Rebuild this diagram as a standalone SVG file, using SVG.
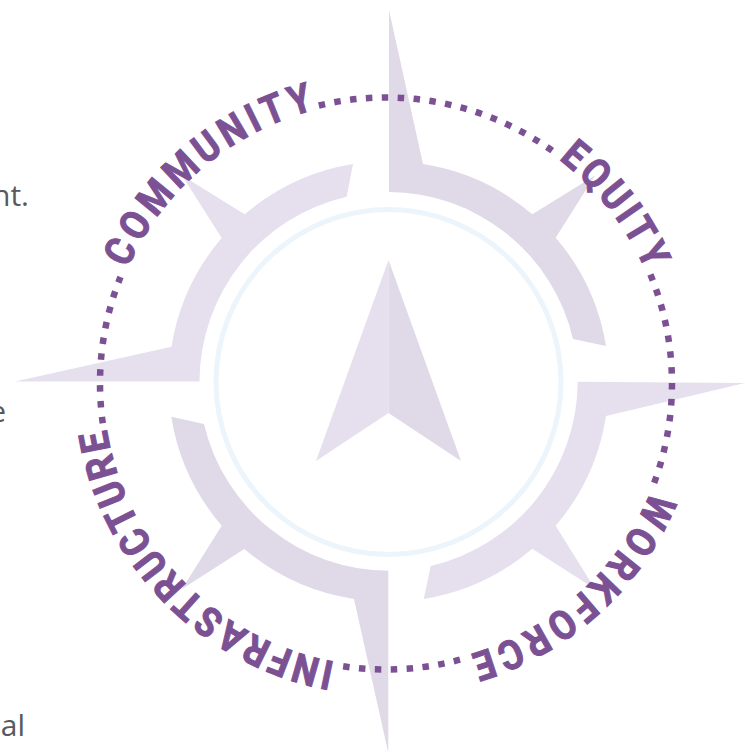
<svg xmlns="http://www.w3.org/2000/svg" xmlns:xlink="http://www.w3.org/1999/xlink" width="745" height="754" viewBox="0 0 745 754">
<style>
.a{fill:#e0d9e8}.b{fill:#e6e0ee}
.lbl{font-family:Roboto,"Liberation Sans",sans-serif;font-weight:700;font-size:40.5px;fill:#7b5194;stroke:#7b5194;stroke-width:1.1}
.dots{fill:none;stroke:#7b5194;stroke-width:6.5;stroke-dasharray:6.5 9.4}
.side{font-family:"Open Sans","Noto Sans",sans-serif;font-size:30px;fill:#58595b;text-anchor:end}
</style>
<defs>
<path id="p1" d="M127.5,268.4A283,283 0 0 1 361.3,101.6"/>
<path id="p2" d="M558.7,159.3A283,283 0 0 1 664.7,334.4"/>
<path id="p3" d="M651,491A283,283 0 0 1 410.7,665.4"/>
<path id="p4" d="M335,662A283,283 0 0 1 104.1,358.8"/>
</defs>
<rect width="745" height="754" fill="#fff"/>
<g id="side-text">
<text class="side" x="29" y="206">nt.</text>
<text class="side" x="6" y="422">e</text>
<text class="side" x="25" y="736">al</text>
</g>
<g id="compass-top-right"><path class="a" d="M389,10L423,164A220.7,220.7 0 0 1 532.3,214.3L595,175.5L555.7,237.7A220.7,220.7 0 0 1 606,346L573,339A190,190 0 0 0 389,192Z"/></g>
<g id="compass-top-left"><path class="b" d="M15,381.5L171.5,346.7A220.7,220.7 0 0 1 221.7,238L182,175.5L244.7,214.3A220.7,220.7 0 0 1 353,164L346.7,196.7A190,190 0 0 0 199.5,381.5Z"/></g>
<g id="compass-bottom-right"><path class="b" d="M745,383L606,416A220.7,220.7 0 0 1 555.7,525.7L595,589L532.3,548.7A220.7,220.7 0 0 1 423.7,599L430.7,566A190,190 0 0 0 577.7,381.7Z"/></g>
<g id="compass-bottom-left"><path class="a" d="M388.3,753L354,599A220.7,220.7 0 0 1 244.3,549L182,589L221.7,525.7A220.7,220.7 0 0 1 171.3,416.7L204,424A190,190 0 0 0 388.3,570.7Z"/></g>
<g id="ring"><circle cx="388.5" cy="382" r="172.5" fill="none" stroke="#ecf5fb" stroke-width="5"/></g>
<g id="arrow">
<path class="b" d="M388.5,260L316,461L388.5,413Z"/>
<path class="a" d="M388.5,260L461,461L388.5,413Z"/>
</g>
<g id="connectors">
<path class="dots" d="M318.8,105.5A286,286 0 0 1 554.1,152.1"/>
<path class="dots" d="M650.4,274.5A286,286 0 0 1 653.9,483.6"/>
<path class="dots" d="M460,659.7A286,286 0 0 1 341.3,666"/>
<path class="dots" d="M102.8,423.3A286,286 0 0 1 120.5,277"/>
</g>
<g id="community"><text class="lbl" letter-spacing="5.4" textLength="258" lengthAdjust="spacingAndGlyphs"><textPath href="#p1">COMMUNITY</textPath></text></g>
<g id="equity"><text class="lbl" letter-spacing="4.2" textLength="146" lengthAdjust="spacingAndGlyphs"><textPath href="#p2">EQUITY</textPath></text></g>
<g id="workforce"><text class="lbl" letter-spacing="5.3" textLength="256" lengthAdjust="spacingAndGlyphs"><textPath href="#p3">WORKFORCE</textPath></text></g>
<g id="infrastructure"><text class="lbl" letter-spacing="3.5" textLength="350" lengthAdjust="spacingAndGlyphs"><textPath href="#p4">INFRASTRUCTURE</textPath></text></g>
</svg>
